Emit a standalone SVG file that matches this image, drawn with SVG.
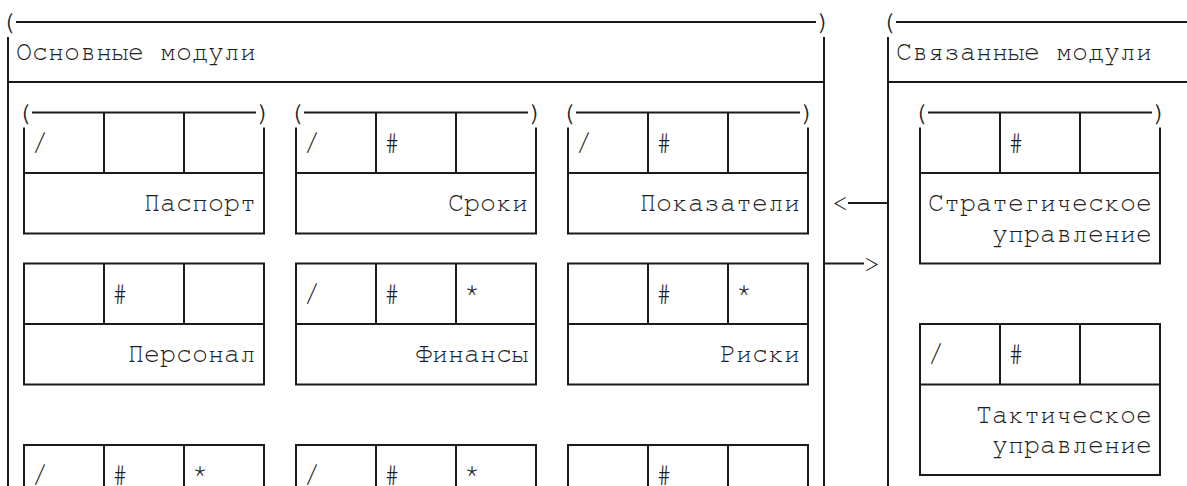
<svg xmlns="http://www.w3.org/2000/svg" width="1187" height="486" viewBox="0 0 1187 486">
<style>
text{font-family:"Nimbus Mono PS","Nimbus Mono L","FreeMono","Courier","Liberation Mono",monospace;font-size:26.67px;fill:#222}
.e{text-anchor:end}
.ln{fill:none;stroke:#1a1a1a;stroke-width:2}
</style>
<rect width="1187" height="486" fill="#fff"/>
<g id="main-modules">
<text x="0" y="30">(</text><text x="816" y="30">)</text>
<path class="ln" d="M16 22H816M8 37V486M824 37V486M8 82H824"/>
<text x="16" y="60">Основные модули</text>
</g>
<g id="related-modules">
<text x="880" y="30">(</text>
<path class="ln" d="M896 22H1187M888 37V486M888 82H1187"/>
<text x="896" y="60">Связанные модули</text>
</g>
<g id="passport">
<text x="16" y="120.5">(</text><text x="256" y="120.5">)</text>
<path class="ln" d="M32 112.5H256M104 112.5V173M184 112.5V173M24 127.4V233.5H264V127.4M24 173H264"/>
<text x="32" y="150.5">/</text>
<text class="e" x="256" y="211">Паспорт</text>
</g>
<g id="deadlines">
<text x="288" y="120.5">(</text><text x="528" y="120.5">)</text>
<path class="ln" d="M304 112.5H528M376 112.5V173M456 112.5V173M296 127.4V233.5H536V127.4M296 173H536"/>
<text x="304" y="150.5">/</text><text x="384" y="150.5">#</text>
<text class="e" x="528" y="211">Сроки</text>
</g>
<g id="indicators">
<text x="560" y="120.5">(</text><text x="800" y="120.5">)</text>
<path class="ln" d="M576 112.5H800M648 112.5V173M728 112.5V173M568 127.4V233.5H808V127.4M568 173H808"/>
<text x="576" y="150.5">/</text><text x="656" y="150.5">#</text>
<text class="e" x="800" y="211">Показатели</text>
</g>
<g id="personnel">
<path class="ln" d="M24 263.5H264V384.5H24ZM104 263.5V324M184 263.5V324M24 324H264"/>
<text x="112" y="302">#</text>
<text class="e" x="256" y="362">Персонал</text>
</g>
<g id="finance">
<path class="ln" d="M296 263.5H536V384.5H296ZM376 263.5V324M456 263.5V324M296 324H536"/>
<text x="304" y="302">/</text><text x="384" y="302">#</text><text x="464" y="302">*</text>
<text class="e" x="528" y="362">Финансы</text>
</g>
<g id="risks">
<path class="ln" d="M568 263.5H808V384.5H568ZM648 263.5V324M728 263.5V324M568 324H808"/>
<text x="656" y="302">#</text><text x="736" y="302">*</text>
<text class="e" x="800" y="362">Риски</text>
</g>
<g id="box-g">
<path class="ln" d="M24 486V445H264V486M104 445V486M184 445V486"/>
<text x="32" y="483">/</text><text x="112" y="483">#</text><text x="192" y="483">*</text>
</g>
<g id="box-h">
<path class="ln" d="M296 486V445H536V486M376 445V486M456 445V486"/>
<text x="304" y="483">/</text><text x="384" y="483">#</text><text x="464" y="483">*</text>
</g>
<g id="box-i">
<path class="ln" d="M568 486V445H808V486M648 445V486M728 445V486"/>
<text x="656" y="483">#</text>
</g>
<g id="strategic">
<text x="912" y="120.5">(</text><text x="1152" y="120.5">)</text>
<path class="ln" d="M928 112.5H1152M1000 112.5V173M1080 112.5V173M920 127.4V263.5H1160V127.4M920 173H1160"/>
<text x="1008" y="150.5">#</text>
<text class="e" x="1152" y="211">Стратегическое</text>
<text class="e" x="1152" y="241.5">управление</text>
</g>
<g id="tactical">
<path class="ln" d="M920 324H1160V475H920ZM1000 324V384.5M1080 324V384.5M920 384.5H1160"/>
<text x="928" y="362">/</text><text x="1008" y="362">#</text>
<text class="e" x="1152" y="422.5">Тактическое</text>
<text class="e" x="1152" y="453">управление</text>
</g>
<g id="connectors">
<text x="832" y="211">&lt;</text>
<path class="ln" d="M848 203H888M824 263.5H864"/>
<text x="864" y="271.5">&gt;</text>
</g>
</svg>
